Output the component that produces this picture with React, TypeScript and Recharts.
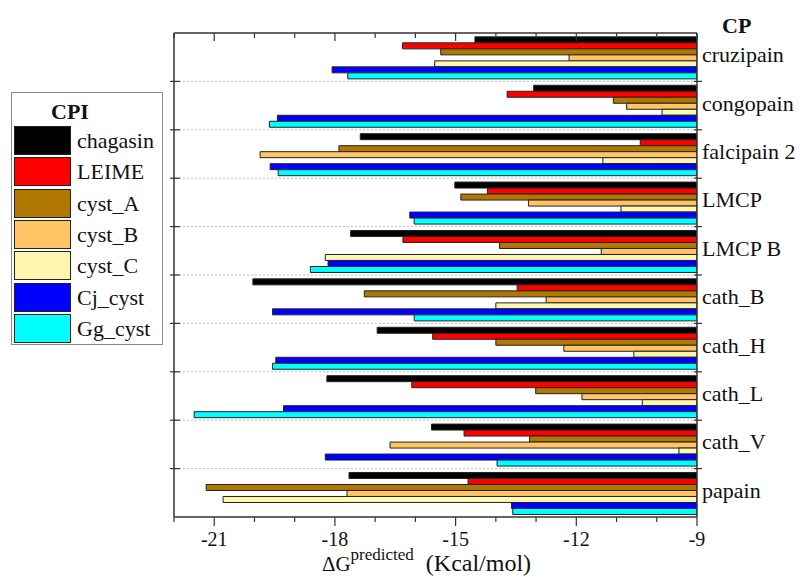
import React from 'react';
import { BarChart, Bar, XAxis, YAxis, ReferenceLine } from 'recharts';

const FONT = "'Liberation Serif', 'Times New Roman', serif";

// cysteine proteases (CP), top to bottom
const proteases = ['cruzipain', 'congopain', 'falcipain 2', 'LMCP', 'LMCP B', 'cath_B', 'cath_H', 'cath_L', 'cath_V', 'papain'];

// predicted binding energy per inhibitor (CPI), Kcal/mol
const chagasin = [-14.52, -13.06, -17.37, -15.02, -17.61, -20.04, -16.95, -18.2, -15.6, -17.65];
const leime = [-16.32, -13.72, -10.41, -14.21, -16.31, -13.47, -15.57, -16.09, -14.79, -14.69];
const cystA = [-15.37, -11.08, -17.9, -14.87, -13.91, -17.27, -14.0, -13.01, -13.16, -21.2];
const cystB = [-12.18, -10.75, -19.86, -13.19, -11.38, -12.75, -12.31, -11.86, -16.63, -17.7];
const cystC = [-15.52, -9.87, -11.34, -10.89, -18.24, -14.0, -10.57, -10.36, -9.45, -20.78];
const cjCyst = [-18.07, -19.43, -19.61, -16.14, -18.17, -19.55, -19.47, -19.28, -18.24, -13.61];
const ggCyst = [-17.68, -19.63, -19.41, -16.03, -18.61, -16.03, -19.55, -21.5, -13.97, -13.58];

const xDomain = [-22, -9];
const xTicks = [-22, -21, -20, -19, -18, -17, -16, -15, -14, -13, -12, -11, -10, -9];
const xLabelled = [-21, -18, -15, -12, -9];

const series = [
  { key: 'chagasin', values: chagasin, color: '#000000' },
  { key: 'LEIME', values: leime, color: '#ff0000' },
  { key: 'cyst_A', values: cystA, color: '#b07800' },
  { key: 'cyst_B', values: cystB, color: '#ffc466' },
  { key: 'cyst_C', values: cystC, color: '#fff6b0' },
  { key: 'Cj_cyst', values: cjCyst, color: '#0000ff' },
  { key: 'Gg_cyst', values: ggCyst, color: '#00ffff' },
];

const data = proteases.map((name, i) => {
  const row: any = { name };
  series.forEach(s => { row[s.key] = s.values[i]; });
  return row;
});

const AXIS = '#333';

const BottomTick = ({ x, y, payload }: any) => {
  const major = xLabelled.includes(payload.value);
  return (
    <g>
      <line x1={x} x2={x} y1={y} y2={y + (major ? 9 : 5)} stroke={AXIS} strokeWidth={1.2} />
      {major && (
        <text x={x} y={y + 29} textAnchor="middle" fontFamily={FONT} fontSize={20} fill="#111">
          {payload.value}
        </text>
      )}
    </g>
  );
};

const TopTick = ({ x, y, payload }: any) => {
  const major = xLabelled.includes(payload.value);
  return <line x1={x} x2={x} y1={y} y2={y + (major ? 8 : 5)} stroke={AXIS} strokeWidth={1.2} />;
};

const CategoryTick = ({ x, y, payload }: any) => (
  <text x={x} y={y + 5} fontFamily={FONT} fontSize={22} fill="#111">
    {payload.value}
  </text>
);

// dotted separator between two proteases, with a tick on each side frame
const Boundary = ({ x1, y1, x2, y2 }: any) => (
  <g>
    <line x1={x1} x2={x2} y1={y1} y2={y2} stroke="#bbb" strokeDasharray="2 2" />
    <line x1={x1 - 3} x2={x1 + 5} y1={y1} y2={y1} stroke={AXIS} strokeWidth={1.2} />
    <line x1={x2 - 4} x2={x2 + 6} y1={y2} y2={y2} stroke={AXIS} strokeWidth={1.2} />
  </g>
);

const AxisTitle = ({ viewBox }: any) => {
  const cx = viewBox.x + viewBox.width / 2 - 9;
  return (
    <text x={cx} y={571} textAnchor="middle" fontFamily={FONT} fontSize={24} fill="#111">
      <tspan fontSize={21}>Δ</tspan>
      <tspan fontSize={21}>G</tspan>
      <tspan fontSize={17} dy={-11}>predicted</tspan>
      <tspan dy={11}>{'\u00a0\u00a0(Kcal/mol)'}</tspan>
    </text>
  );
};

const CpiLegend = () => (
  <div
    style={{
      position: 'absolute', left: 11, top: 92, width: 152, height: 253,
      border: '1px solid #888', boxSizing: 'border-box', fontFamily: FONT, color: '#111',
    }}
  >
    <div style={{ position: 'absolute', left: 0, top: 6, width: 116, textAlign: 'center', fontWeight: 'bold', fontSize: 22 }}>
      CPI
    </div>
    {series.map((s, i) => (
      <div key={s.key} style={{ position: 'absolute', left: 2, top: 33 + i * 31.3, height: 29, display: 'flex', alignItems: 'center' }}>
        <div style={{ width: 57, height: 29, background: s.color, border: '1.5px solid #222', boxSizing: 'border-box' }} />
        <span style={{ marginLeft: 6, fontSize: 22, lineHeight: '29px' }}>{s.key}</span>
      </div>
    ))}
  </div>
);

export default function App() {
  return (
    <div style={{ position: 'absolute', left: 0, top: 0, width: 802, height: 577, background: '#fff' }}>
      <BarChart
        width={802}
        height={577}
        data={data}
        layout="vertical"
        margin={{ top: 32, right: 104, bottom: 0, left: 174 }}
        barCategoryGap="8%"
        barGap={0}
      >
        <XAxis
          type="number"
          domain={xDomain}
          ticks={xTicks}
          interval={0}
          allowDataOverflow
          height={60}
          tickSize={0}
          tickMargin={0}
          tick={<BottomTick />}
          axisLine={{ stroke: AXIS, strokeWidth: 1.5 }}
          label={<AxisTitle />}
        />
        <XAxis
          xAxisId="top"
          orientation="top"
          type="number"
          domain={xDomain}
          ticks={xTicks}
          interval={0}
          allowDataOverflow
          height={1}
          tickSize={0}
          tickMargin={0}
          tick={<TopTick />}
          axisLine={{ stroke: AXIS, strokeWidth: 1.5 }}
        />
        <YAxis
          yAxisId="cat"
          type="category"
          dataKey="name"
          orientation="right"
          width={1}
          interval={0}
          axisLine={false}
          tickLine={false}
          tickSize={0}
          tickMargin={5}
          tick={<CategoryTick />}
        />
        {series.map(s => (
          <Bar
            key={s.key}
            yAxisId="cat"
            dataKey={s.key}
            fill={s.color}
            stroke="#222"
            strokeWidth={1}
            isAnimationActive={false}
          />
        ))}
        {proteases.slice(1).map(name => (
          <ReferenceLine
            key={name}
            yAxisId="cat"
            y={name}
            position="start"
            ifOverflow="visible"
            shape={(p: any) => <Boundary {...p} />}
          />
        ))}
        <ReferenceLine yAxisId="cat" x={xDomain[0]} stroke={AXIS} strokeWidth={1.5} />
        <ReferenceLine yAxisId="cat" x={xDomain[1]} stroke={AXIS} strokeWidth={1.5} />
      </BarChart>
      <div
        style={{
          position: 'absolute', left: 722, top: 13, fontFamily: FONT, fontWeight: 'bold', fontSize: 22, color: '#111',
        }}
      >
        CP
      </div>
      <CpiLegend />
    </div>
  );
}
